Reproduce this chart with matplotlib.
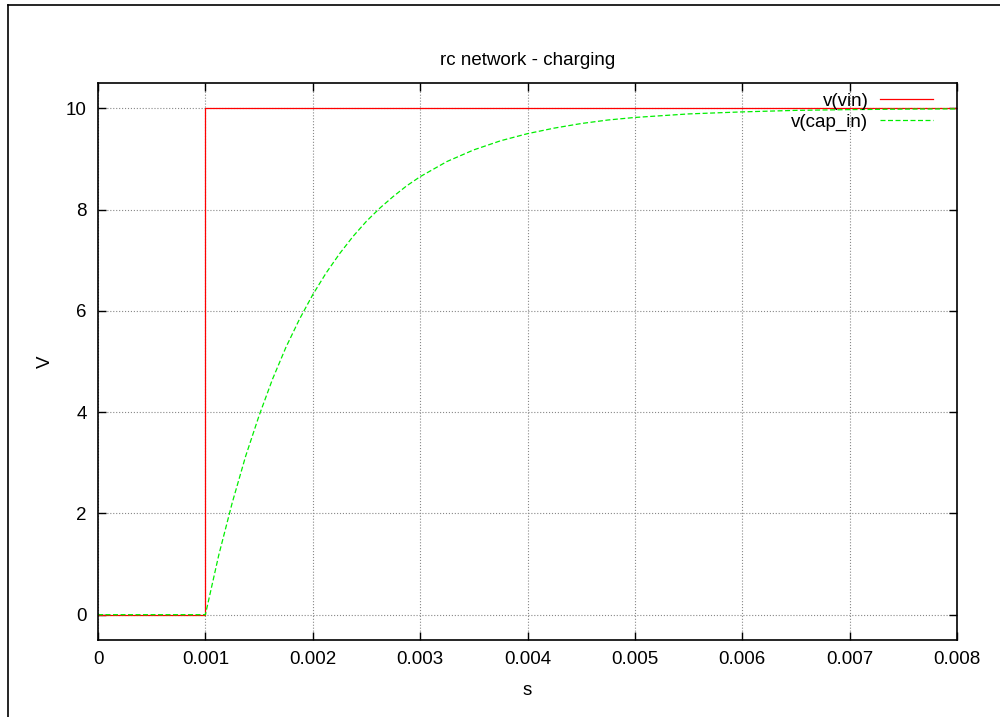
import matplotlib.pyplot as plt
from matplotlib.lines import Line2D

plt.rcParams['font.family'] = ['Liberation Sans', 'DejaVu Sans']

# input step
t_vin = [0.0, 0.001, 0.001, 0.008]
v_vin = [0.0, 0.0, 10.0, 10.0]

# capacitor voltage
t_cap = [0.0, 0.001, 0.001125, 0.00125, 0.001375, 0.0015, 0.001625, 0.00175,
         0.001875, 0.002, 0.002125, 0.00225, 0.002375, 0.0025, 0.002625,
         0.00275, 0.002875, 0.003, 0.00325, 0.0035, 0.00375, 0.004, 0.00425,
         0.0045, 0.00475, 0.005, 0.0055, 0.006, 0.0065, 0.007, 0.0075, 0.008]
v_cap = [0.0, 0.0, 1.18, 2.21, 3.13, 3.93, 4.65, 5.28,
         5.83, 6.32, 6.75, 7.13, 7.47, 7.77, 8.03,
         8.26, 8.47, 8.65, 8.95, 9.18, 9.36, 9.50, 9.61,
         9.70, 9.77, 9.82, 9.89, 9.93, 9.96, 9.975, 9.985, 9.99]

xticks = [0, 0.001, 0.002, 0.003, 0.004, 0.005, 0.006, 0.007, 0.008]
xticklabels = ['0', '0.001', '0.002', '0.003', '0.004', '0.005', '0.006', '0.007', '0.008']
yticks = [0, 2, 4, 6, 8, 10]

fig = plt.figure(figsize=(10, 7.17), dpi=100)
ax = fig.add_axes([0.098, 0.1074, 0.859, 0.7768])

ax.plot(t_vin, v_vin, color='#ff0000', lw=0.9, label='v(vin)')
ax.plot(t_cap, v_cap, color='#00ee00', lw=0.9, ls=(0, (4, 2)), label='v(cap_in)')

ax.set_xlim(0, 0.008)
ax.set_ylim(-0.5, 10.5)
ax.set_xticks(xticks)
ax.set_xticklabels(xticklabels)
ax.set_yticks(yticks)
ax.tick_params(direction='in', length=6, width=1, top=True, right=True,
               labelsize=13.5, pad=8)
ax.grid(True, color='#888888', ls=':', lw=0.8)
for sp in ax.spines.values():
    sp.set_linewidth(1.2)

ax.set_title('rc network - charging', fontsize=13.5, pad=13)
ax.set_xlabel('s', fontsize=13.5, labelpad=10)
ax.set_ylabel('V', fontsize=13.5, labelpad=9)

ax.legend(loc='upper right', frameon=False, markerfirst=False, fontsize=13.5,
          handlelength=2.85, handletextpad=0.6, borderaxespad=0.1,
          labelspacing=0.2, bbox_to_anchor=(0.983, 1.0))

# page frame lines
fig.add_artist(Line2D([0.008, 0.008], [0, 0.993], color='black', lw=1.2,
                      transform=fig.transFigure))
fig.add_artist(Line2D([0.008, 1.0], [0.993, 0.993], color='black', lw=1.2,
                      transform=fig.transFigure))

fig.savefig('out.png', dpi=100)
